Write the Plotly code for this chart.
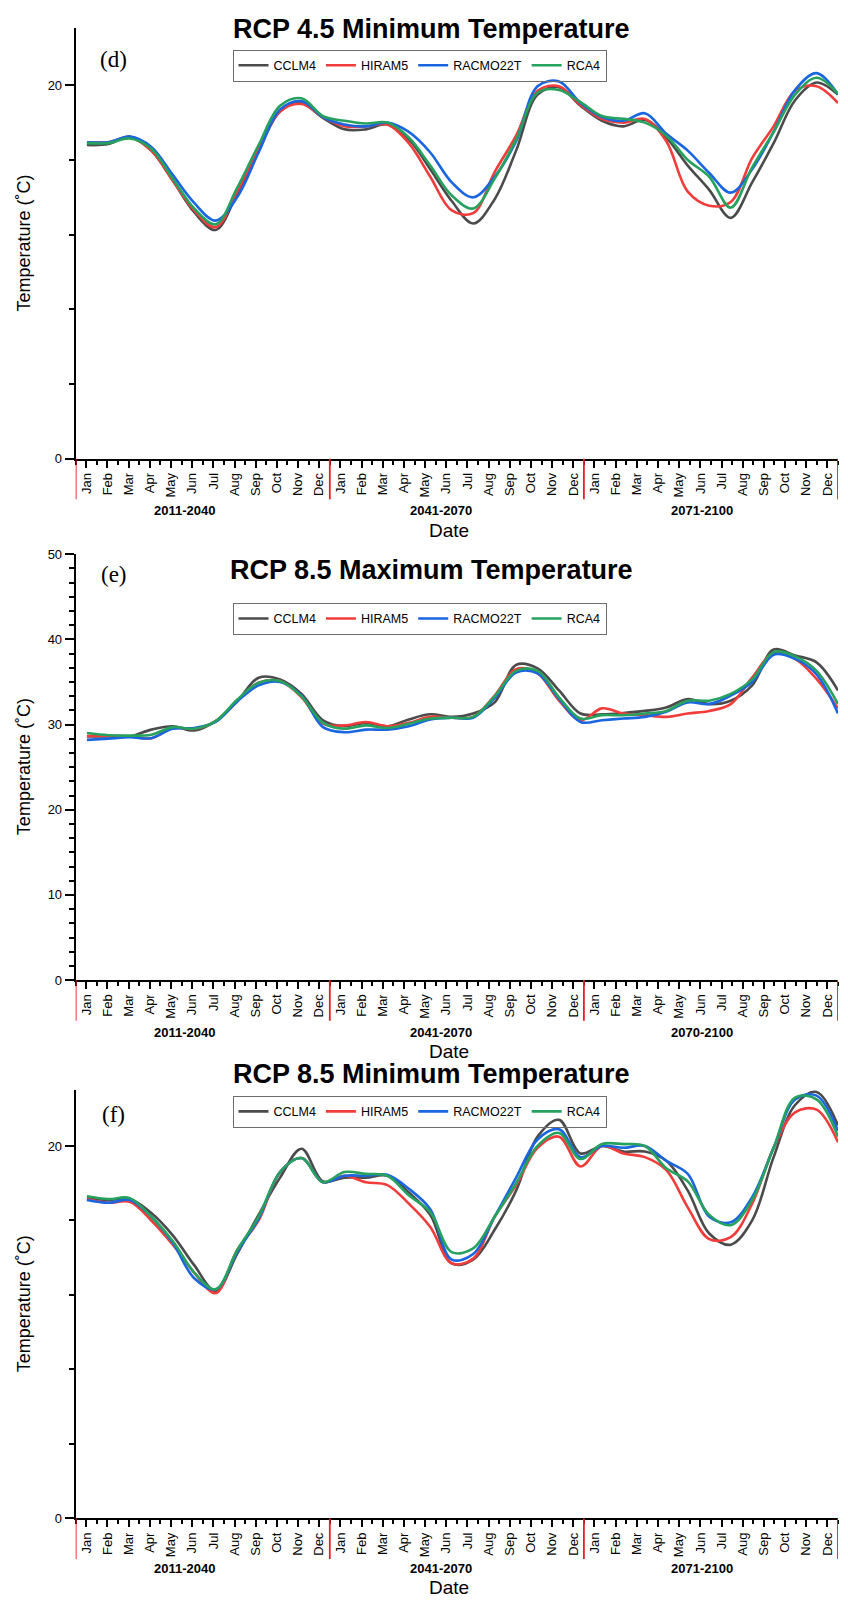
import plotly.graph_objects as go

W, H = 848, 1605

months = ["Jan", "Feb", "Mar", "Apr", "May", "Jun", "Jul", "Aug", "Sep", "Oct", "Nov", "Dec"]
models = ["CCLM4", "HIRAM5", "RACMO22T", "RCA4"]
colors = ["#4b4b4b", "#f23c3c", "#1a66e0", "#26a25e"]

periods_d = ["2011-2040", "2041-2070", "2071-2100"]
periods_e = ["2011-2040", "2041-2070", "2070-2100"]
periods_f = ["2011-2040", "2041-2070", "2071-2100"]

# (d) RCP 4.5 Minimum Temperature
d_cclm4 = [16.8, 16.85, 17.25, 16.5, 14.9, 13.2, 12.25, 14.2, 16.5, 18.6, 19.05, 18.25,
           17.64, 17.64, 17.9, 17.1, 15.5, 13.8, 12.6, 13.9, 16.5, 19.5, 19.9, 18.9,
           18.1, 17.8, 18.15, 17.2, 15.7, 14.4, 12.9, 14.8, 16.9, 19.2, 20.15, 19.5]
d_hiram5 = [16.95, 16.95, 17.2, 16.5, 14.9, 13.3, 12.4, 14.3, 16.6, 18.6, 19.0, 18.3,
            17.8, 17.8, 17.9, 16.9, 15.1, 13.3, 13.15, 15.35, 17.3, 19.7, 19.95, 18.95,
            18.2, 18.0, 18.2, 17.0, 14.3, 13.55, 13.75, 16.1, 17.8, 19.7, 19.95, 19.05]
d_racmo = [16.95, 16.95, 17.25, 16.7, 15.2, 13.7, 12.75, 14.0, 16.4, 18.7, 19.15, 18.3,
           17.9, 17.8, 18.0, 17.5, 16.4, 14.8, 14.0, 15.1, 17.0, 19.95, 20.2, 19.05,
           18.3, 18.1, 18.5, 17.4, 16.5, 15.3, 14.25, 15.5, 17.5, 19.75, 20.65, 19.5]
d_rca4 = [16.9, 16.9, 17.15, 16.6, 15.0, 13.4, 12.55, 14.5, 16.8, 18.9, 19.3, 18.35,
          18.1, 17.95, 18.0, 17.2, 15.7, 14.1, 13.4, 15.0, 17.1, 19.6, 19.75, 19.1,
          18.35, 18.2, 18.0, 17.3, 16.0, 15.1, 13.45, 15.6, 17.5, 19.5, 20.4, 19.55]

# (e) RCP 8.5 Maximum Temperature
e_cclm4 = [28.6, 28.6, 28.6, 29.4, 29.8, 29.3, 30.4, 32.7, 35.5, 35.3, 33.6, 30.5,
           29.8, 30.2, 29.8, 30.6, 31.2, 30.9, 31.3, 32.6, 37.0, 36.6, 34.0, 31.3,
           31.2, 31.35, 31.6, 32.0, 33.0, 32.4, 32.8, 34.6, 38.8, 38.1, 37.3, 34.0]
e_hiram5 = [28.65, 28.7, 28.6, 28.4, 29.6, 29.5, 30.4, 32.8, 34.9, 35.1, 33.2, 30.1,
            29.9, 30.3, 29.8, 30.2, 30.9, 30.8, 30.9, 33.4, 36.5, 36.0, 32.8, 30.5,
            31.9, 31.3, 31.1, 30.9, 31.3, 31.6, 32.4, 35.5, 38.4, 37.7, 35.35, 31.9]
e_racmo = [28.2, 28.35, 28.5, 28.4, 29.5, 29.6, 30.3, 32.7, 34.6, 35.0, 33.4, 29.7,
           29.1, 29.4, 29.4, 29.8, 30.6, 30.8, 30.8, 33.1, 36.1, 36.0, 33.0, 30.3,
           30.5, 30.7, 30.9, 31.5, 32.6, 32.4, 33.4, 35.0, 38.2, 37.7, 35.9, 31.3]
e_rca4 = [29.0, 28.75, 28.7, 28.8, 29.7, 29.5, 30.4, 32.9, 34.9, 35.1, 33.3, 30.2,
          29.5, 29.9, 29.6, 30.1, 30.7, 30.8, 30.9, 33.3, 36.3, 36.3, 33.2, 30.7,
          31.1, 31.1, 31.3, 31.6, 32.8, 32.8, 33.6, 35.3, 38.5, 38.0, 36.3, 32.4]

# (f) RCP 8.5 Minimum Temperature
f_cclm4 = [17.2, 17.1, 17.15, 16.4, 15.2, 13.6, 12.2, 14.2, 16.3, 18.3, 19.85, 18.1,
           18.3, 18.3, 18.4, 17.5, 16.3, 13.7, 13.9, 15.5, 17.6, 20.5, 21.4, 19.6,
           20.0, 19.7, 19.7, 19.2, 17.6, 15.3, 14.7, 16.0, 19.4, 22.2, 22.9, 21.1]
f_hiram5 = [17.15, 16.95, 17.0, 16.0, 14.7, 13.2, 12.1, 14.4, 16.0, 18.6, 19.35, 18.05,
            18.4, 18.05, 17.9, 16.9, 15.65, 13.7, 13.95, 16.2, 17.9, 19.9, 20.5, 18.9,
            20.0, 19.6, 19.4, 18.7, 16.7, 15.0, 15.1, 16.9, 19.9, 21.8, 21.95, 20.2]
f_racmo = [17.1, 16.95, 17.1, 16.2, 14.8, 12.9, 12.3, 14.3, 16.1, 18.6, 19.35, 18.05,
           18.4, 18.4, 18.45, 17.7, 16.6, 13.9, 14.2, 16.2, 18.3, 20.35, 20.9, 19.4,
           20.0, 19.9, 20.0, 19.2, 18.5, 16.2, 15.9, 17.25, 19.9, 22.5, 22.7, 20.8]
f_rca4 = [17.3, 17.15, 17.2, 16.2, 14.9, 13.2, 12.3, 14.4, 16.2, 18.6, 19.35, 18.05,
          18.6, 18.5, 18.4, 17.35, 16.45, 14.3, 14.5, 16.2, 18.0, 20.0, 20.7, 19.3,
          20.1, 20.1, 20.0, 18.8, 18.1, 16.3, 15.75, 17.1, 19.9, 22.6, 22.5, 20.5]

panels = [
    dict(title="RCP 4.5 Minimum Temperature", tag="(d)", periods=periods_d,
         series=[d_cclm4, d_hiram5, d_racmo, d_rca4], yrange=[0, 23.04],
         ytickvals=[0, 20], yminor=4, top=21.7, bottom=456.0,
         title_y=22, tag_y=52.5, leg_y=43, per_y=508, date_y=528),
    dict(title="RCP 8.5 Maximum Temperature", tag="(e)", periods=periods_e,
         series=[e_cclm4, e_hiram5, e_racmo, e_rca4], yrange=[0, 50],
         ytickvals=[0, 10, 20, 30, 40, 50], yminor=10 / 6, top=552.3, bottom=982.3,
         title_y=568, tag_y=573, leg_y=601.5, per_y=1035, date_y=1054),
    dict(title="RCP 8.5 Minimum Temperature", tag="(f)", periods=periods_f,
         series=[f_cclm4, f_hiram5, f_racmo, f_rca4], yrange=[0, 23.0],
         ytickvals=[0, 20], yminor=4, top=1093.3, bottom=1525.7,
         title_y=1077.5, tag_y=1118, leg_y=1099, per_y=1576, date_y=1595),
]

FONT = "Liberation Sans, Arial, sans-serif"
XL, XR = 75.7, 838.0
n = 36
# data points: first at Jan of first period, last at the right end of the axis
xpos = [0.53 + k * (36.0 - 0.53) / (n - 1) for k in range(n)]
tickvals = [i + 0.5 for i in range(36)]
ticktext = months * 3


def py(p):
    return 1 - p / H


def px(p):
    return p / W


fig = go.Figure()
annotations = []
shapes = []
layout = {}

for i, p in enumerate(panels):
    sfx = "" if i == 0 else str(i + 1)
    legname = "legend" + sfx
    for name, col, vals in zip(models, colors, p["series"]):
        fig.add_trace(go.Scatter(
            x=xpos, y=vals, name=name, mode="lines",
            line=dict(color=col, width=2.6, shape="spline", smoothing=1.0),
            xaxis="x" + sfx, yaxis="y" + sfx, legend=legname,
        ))
    layout["xaxis" + sfx] = dict(
        domain=[px(XL), px(XR)], anchor="y" + sfx, range=[0, 36],
        showgrid=False, zeroline=False, showline=True, linecolor="black", linewidth=2,
        tickmode="array", tickvals=tickvals, ticktext=ticktext, tickangle=-90,
        ticks="outside", ticklen=7, tickwidth=1.5, tickcolor="black",
        tickfont=dict(family=FONT, size=13, color="black"),
        minor=dict(tickvals=list(range(0, 37)), ticks="outside", ticklen=4,
                   tickwidth=1.5, tickcolor="black", showgrid=False),
        fixedrange=True,
    )
    layout["yaxis" + sfx] = dict(
        domain=[py(p["bottom"]), py(p["top"])], anchor="x" + sfx, range=p["yrange"],
        showgrid=False, zeroline=False, showline=True, linecolor="black", linewidth=2,
        tickmode="array", tickvals=p["ytickvals"], ticks="outside", ticklen=9,
        tickwidth=1.5, tickcolor="black",
        tickfont=dict(family=FONT, size=13, color="black"),
        minor=dict(dtick=p["yminor"], tick0=0, ticks="outside", ticklen=5,
                   tickwidth=1.5, tickcolor="black", showgrid=False),
        fixedrange=True,
    )
    layout[legname] = dict(
        x=px(232.5), y=py(p["leg_y"]), xanchor="left", yanchor="top",
        orientation="h", bordercolor="#6e6e6e", borderwidth=1,
        bgcolor="rgba(255,255,255,0)",
        font=dict(family=FONT, size=12.5, color="black"),
        tracegroupgap=0, itemwidth=30,
    )
    # red period separators
    for xv in [0, 12, 24, 36]:
        shapes.append(dict(type="line", xref="x" + sfx, yref="paper",
                           x0=xv, x1=xv, y0=py(p["bottom"]), y1=py(p["bottom"] + 41),
                           line=dict(color="#ee1c24", width=1.8)))
    # title
    annotations.append(dict(text="<b>" + p["title"] + "</b>", xref="paper", yref="paper",
                            x=px(431), y=py(p["title_y"]), xanchor="center", yanchor="middle",
                            showarrow=False, font=dict(family=FONT, size=27, color="black")))
    # panel tag
    annotations.append(dict(text=p["tag"], xref="paper", yref="paper",
                            x=px(113.6), y=py(p["tag_y"]), xanchor="center", yanchor="middle",
                            showarrow=False,
                            font=dict(family="Liberation Serif, Times New Roman, serif",
                                      size=23, color="black")))
    # period labels
    for lab, cx in zip(p["periods"], [184, 441, 702]):
        annotations.append(dict(text="<b>" + lab + "</b>", xref="paper", yref="paper",
                                x=px(cx), y=py(p["per_y"]), xanchor="center", yanchor="middle",
                                showarrow=False, font=dict(family=FONT, size=13, color="black")))
    # x axis title
    annotations.append(dict(text="Date", xref="paper", yref="paper",
                            x=px(449), y=py(p["date_y"]), xanchor="center", yanchor="middle",
                            showarrow=False, font=dict(family=FONT, size=19, color="black")))
    # y axis title
    annotations.append(dict(text="Temperature (˚C)", xref="paper", yref="paper",
                            x=px(24), y=py((p["top"] + p["bottom"]) / 2),
                            xanchor="center", yanchor="middle", textangle=-90,
                            showarrow=False, font=dict(family=FONT, size=18, color="black")))

fig.update_layout(
    width=W, height=H, margin=dict(l=0, r=0, t=0, b=0),
    paper_bgcolor="white", plot_bgcolor="white",
    font=dict(family=FONT, color="black"),
    annotations=annotations, shapes=shapes, **layout,
)

fig.write_html("out.html", config={"displayModeBar": False},
               post_script="document.body.style.margin='0px';document.body.style.overflow='hidden';")
